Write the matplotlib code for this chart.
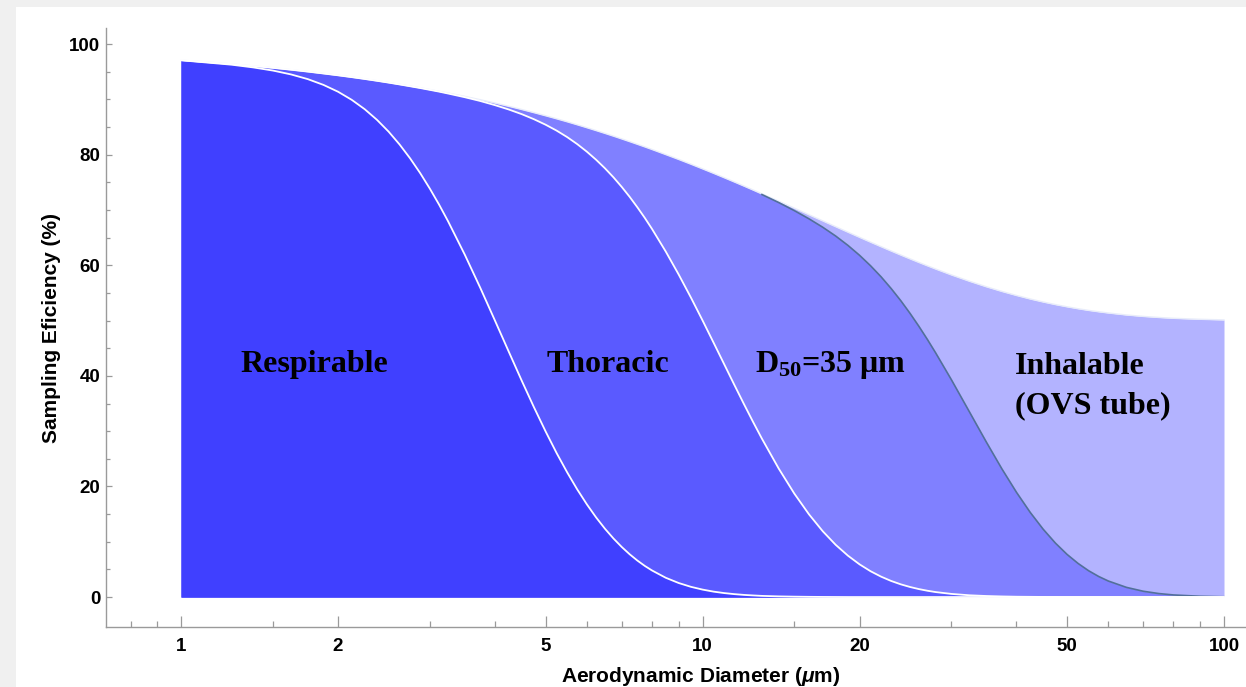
import numpy as np
import matplotlib
matplotlib.use("Agg")
import matplotlib.pyplot as plt
from matplotlib.patches import Rectangle
from matplotlib.ticker import FixedLocator, NullFormatter

plt.rcParams['font.family'] = ['Liberation Sans', 'DejaVu Sans']
plt.rcParams['mathtext.fontset'] = 'custom'
plt.rcParams['mathtext.bf'] = 'Liberation Serif:bold'
plt.rcParams['mathtext.it'] = 'Liberation Sans:italic:bold'
plt.rcParams['mathtext.rm'] = 'Liberation Sans:bold'

# aerodynamic diameter (um) and sampling efficiency (%)
diam = [1, 1.25, 1.375, 1.5, 1.625, 1.75, 1.875, 2, 2.125, 2.25, 2.375, 2.5, 2.625,
        2.75, 2.875, 3, 3.125, 3.25, 3.5, 3.75, 4, 4.25, 4.5,
        4.75, 5, 5.25, 5.5, 5.75, 6, 6.25, 6.5, 6.75, 7,
        7.25, 7.5, 7.75, 8, 8.5, 9, 9.5, 10, 10.5, 11,
        11.5, 12, 12.5, 13, 14, 15, 16, 17, 18, 19,
        20, 21, 22, 23, 24, 25, 26, 27, 28, 30,
        32.5, 35, 37.5, 40, 42.5, 45, 47.5, 50, 52.5, 55,
        57.5, 60, 65, 70, 75, 80, 90, 100]

inhalable = [97.09, 96.39, 96.04, 95.70, 95.36, 95.02, 94.68, 94.35, 94.02, 93.69, 93.36, 93.04, 92.71,
             92.39, 92.08, 91.76, 91.45, 91.14, 90.53, 89.93, 89.33, 88.75, 88.17,
             87.60, 87.04, 86.49, 85.95, 85.41, 84.88, 84.36, 83.85, 83.35, 82.85,
             82.36, 81.88, 81.41, 80.94, 80.02, 79.14, 78.28, 77.44, 76.63, 75.84,
             75.08, 74.34, 73.62, 72.92, 71.59, 70.33, 69.14, 68.03, 66.98, 65.99,
             65.06, 64.18, 63.36, 62.58, 61.85, 61.16, 60.51, 59.90, 59.32, 58.26,
             57.11, 56.12, 55.27, 54.54, 53.90, 53.36, 52.89, 52.49, 52.14, 51.84,
             51.59, 51.37, 51.01, 50.75, 50.56, 50.41, 50.23, 50.12]

d50_35 = [97.09, 96.39, 96.04, 95.70, 95.36, 95.02, 94.68, 94.35, 94.02, 93.69, 93.36, 93.04, 92.71,
          92.39, 92.08, 91.76, 91.45, 91.14, 90.53, 89.93, 89.33, 88.75, 88.17,
          87.60, 87.04, 86.49, 85.95, 85.41, 84.88, 84.36, 83.85, 83.35, 82.85,
          82.36, 81.88, 81.41, 80.94, 80.02, 79.14, 78.28, 77.43, 76.61, 75.82,
          75.04, 74.28, 73.53, 72.79, 71.34, 69.88, 68.40, 66.88, 65.29, 63.60,
          61.81, 59.91, 57.91, 55.79, 53.59, 51.30, 48.95, 46.56, 44.14, 39.32,
          33.48, 28.06, 23.19, 18.94, 15.31, 12.27, 9.76, 7.72, 6.08, 4.76,
          3.72, 2.90, 1.75, 1.05, 0.63, 0.38, 0.14, 0.05]

thoracic = [97.09, 96.39, 96.04, 95.70, 95.36, 95.02, 94.68, 94.35, 94.02, 93.69, 93.36, 93.03, 92.70,
            92.37, 92.05, 91.72, 91.40, 91.06, 90.39, 89.70, 88.95, 88.17, 87.33,
            86.41, 85.42, 84.35, 83.18, 81.91, 80.54, 79.08, 77.53, 75.89, 74.16,
            72.36, 70.48, 68.56, 66.57, 62.49, 58.33, 54.16, 50.03, 46.00, 42.13,
            38.43, 34.94, 31.67, 28.63, 23.23, 18.70, 14.96, 11.91, 9.45, 7.49,
            5.92, 4.67, 3.69, 2.91, 2.30, 1.82, 1.44, 1.14, 0.90, 0.57,
            0.32, 0.19, 0.11, 0.06, 0.04, 0.02, 0.01, 0, 0, 0,
            0, 0, 0, 0, 0, 0, 0, 0]

respirable = [97.07, 96.27, 95.78, 95.21, 94.51, 93.66, 92.62, 91.38, 89.91, 88.22, 86.30, 84.17, 81.83,
              79.32, 76.65, 73.85, 70.96, 67.98, 61.92, 55.87, 49.97, 44.38, 39.14,
              34.33, 29.97, 26.04, 22.56, 19.47, 16.77, 14.40, 12.35, 10.58, 9.05,
              7.73, 6.60, 5.63, 4.81, 3.49, 2.54, 1.85, 1.35, 0.98, 0.72,
              0.53, 0.39, 0.29, 0.21, 0.12, 0.07, 0.04, 0.02, 0.01, 0,
              0, 0, 0, 0, 0, 0, 0, 0, 0, 0,
              0, 0, 0, 0, 0, 0, 0, 0, 0, 0,
              0, 0, 0, 0, 0, 0, 0, 0]

x_major = [1, 2, 5, 10, 20, 50, 100]
x_major_labels = ['1', '2', '5', '10', '20', '50', '100']
x_minor = [0.8, 0.9, 1.5, 3, 4, 6, 7, 8, 9, 15, 30, 40, 60, 70, 80, 90]
y_major = [0, 20, 40, 60, 80, 100]
y_minor = [5, 10, 15, 25, 30, 35, 45, 50, 55, 65, 70, 75, 85, 90, 95]

fig = plt.figure(figsize=(12.46, 6.87), dpi=100)
fig.patch.set_facecolor('#f0f0f0')
fig.add_artist(Rectangle((0.0128, 0), 1.0, 0.9898, transform=fig.transFigure,
                         facecolor='white', edgecolor='none', zorder=-10))

ax = fig.add_axes([0.0851, 0.0873, 0.9149, 0.8719])
ax.set_facecolor('none')

d = np.array(diam)
ax.fill_between(d, 0, inhalable, color='#b3b3ff', lw=0, zorder=1)
ax.fill_between(d, 0, d50_35, color='#8080ff', lw=0, zorder=2)
ax.fill_between(d, 0, thoracic, color='#5a5aff', lw=0, zorder=3)
ax.fill_between(d, 0, respirable, color='#4040ff', lw=0, zorder=4)

ax.plot(d, inhalable, color='#e8ecfa', lw=1.0, zorder=5)
sep = d >= 13
ax.plot(d[sep], np.array(d50_35)[sep], color='#52709a', lw=1.2, zorder=5)
ax.plot(d, thoracic, color='white', lw=1.3, zorder=6)
ax.plot(d, respirable, color='white', lw=1.3, zorder=7)

ax.set_xscale('log')
ax.set_xlim(0.718, 110.2)
ax.set_ylim(-5.42, 102.9)

ax.xaxis.set_major_locator(FixedLocator(x_major))
ax.set_xticklabels(x_major_labels)
ax.xaxis.set_minor_locator(FixedLocator(x_minor))
ax.xaxis.set_minor_formatter(NullFormatter())
ax.yaxis.set_major_locator(FixedLocator(y_major))
ax.yaxis.set_minor_locator(FixedLocator(y_minor))

for side in ['top', 'right']:
    ax.spines[side].set_visible(False)
for side in ['left', 'bottom']:
    ax.spines[side].set_color('#9a9a9a')
    ax.spines[side].set_linewidth(1.0)

ax.tick_params(axis='x', which='major', direction='in', length=8, width=0.9,
               color='#9a9a9a', pad=8, labelsize=13.5)
ax.tick_params(axis='x', which='minor', direction='in', length=4, width=0.9, color='#9a9a9a')
ax.tick_params(axis='y', which='major', direction='in', length=4.5, width=0.9,
               color='#9a9a9a', pad=4, labelsize=13.5)
ax.tick_params(axis='y', which='minor', direction='in', length=2.6, width=0.9, color='#9a9a9a')
for lab in ax.get_xticklabels() + ax.get_yticklabels():
    lab.set_fontweight('bold')

ax.set_xlabel(r'Aerodynamic Diameter ($\mathit{\mu}$m)', fontsize=15, fontweight='bold')
ax.set_ylabel('Sampling Eficiency (%)', fontsize=15, fontweight='bold')
ax.xaxis.set_label_coords(0.522, -0.064)
ax.yaxis.set_label_coords(-0.0395, 0.5)

serif = dict(family='Liberation Serif', fontweight='bold', fontsize=23, va='center', ha='left', zorder=10)
ax.text(1.30, 42, 'Respirable', **serif)
ax.text(5.03, 42, 'Thoracic', **serif)
ax.text(12.6, 42, r'$\mathbf{D_{50}}$=35 μm', **serif)
ax.text(39.7, 38.1, 'Inhalable\n(OVS tube)', linespacing=1.45, **serif)

fig.savefig('out.png', dpi=100, facecolor=fig.get_facecolor())
